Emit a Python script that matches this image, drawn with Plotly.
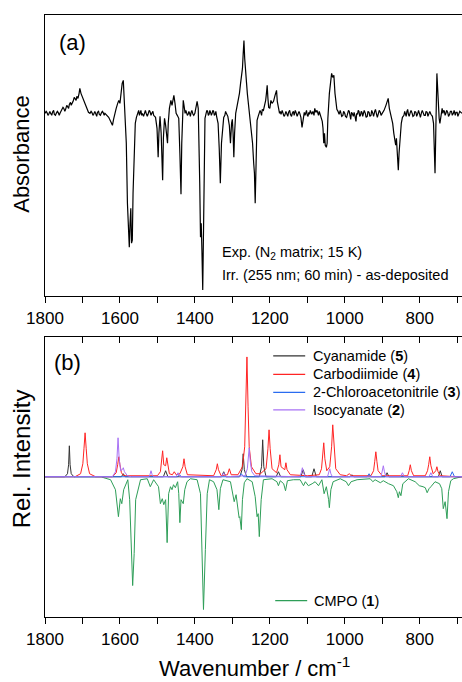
import plotly.graph_objects as go

# ---------------- data ----------------
tick_values = [1800, 1600, 1400, 1200, 1000, 800]
tick_labels = ["1800", "1600", "1400", "1200", "1000", "800"]
minor_tick_values = [1700, 1500, 1300, 1100, 900, 700]

# (a) experimental difference spectrum: (wavenumber, absorbance x 1e-3 a.u.)
exp_points = [
    (1800, 0), (1797, 2), (1795, 1), (1792, -2), (1790, -1), (1787, 2), (1785, 0), (1782, -2),
    (1780, 1), (1777, 3), (1775, -1), (1772, -2), (1770, 0), (1767, 2), (1765, 1), (1762, -2),
    (1760, 0), (1755, 3), (1752, 6), (1750, 5), (1747, 2), (1745, 4), (1742, 8), (1740, 7),
    (1737, 5), (1735, 9), (1732, 11), (1730, 8), (1727, 10), (1725, 12), (1722, 16), (1720, 14),
    (1717, 13), (1715, 17), (1712, 15), (1709, 20), (1707, 25), (1704, 20), (1700, 16),
    (1696, 12), (1692, 8), (1688, 3), (1684, 1), (1680, 0), (1677, 2), (1675, 1), (1672, -2),
    (1670, -1), (1667, 2), (1665, 0), (1662, -3), (1660, 1), (1657, 2), (1655, -1), (1652, -2),
    (1650, 0), (1647, 2), (1645, 1), (1642, -2), (1640, 0), (1635, -2), (1630, -4), (1625, -8),
    (1620, -12), (1617, -6), (1613, 2), (1610, 5), (1606, 10), (1603, 13), (1600, 10),
    (1597, 20), (1594, 30), (1591, 33), (1589, 20), (1586, 0), (1583, -30), (1580, -90),
    (1577, -125), (1575, -134), (1573, -110), (1571, -95), (1569, -130), (1567, -127),
    (1565, -80), (1562, -30), (1559, -10), (1556, -4), (1552, 0), (1550, 3), (1548, -2),
    (1546, 1), (1544, 3), (1542, -2), (1540, 0), (1537, -3), (1535, 1), (1532, 3), (1530, 0),
    (1527, -3), (1525, -1), (1522, 3), (1520, 2), (1517, -2), (1515, 0), (1512, 2),
    (1510, -2), (1505, -4), (1501, -15), (1498, -44), (1496, -20), (1493, -3), (1490, -20),
    (1486, -67), (1484, -25), (1481, -5), (1478, -12), (1475, -25), (1473, -30), (1471, -10),
    (1468, 5), (1464, 13), (1461, 8), (1458, 14), (1456, 18), (1453, 10), (1450, 0),
    (1447, -2), (1443, -5), (1440, -40), (1437, -81), (1435, -30), (1433, 5), (1431, 13),
    (1429, 8), (1426, 0), (1424, 3), (1422, 1), (1420, -2), (1418, -1), (1416, 2), (1414, 0),
    (1412, -3), (1410, 1), (1408, 3), (1405, -1), (1403, -2), (1400, 0), (1397, 5), (1394, 12),
    (1391, 5), (1389, -20), (1387, -70), (1385, -124), (1383, -110), (1381, -140),
    (1379, -177), (1377, -120), (1375, -40), (1373, -5), (1370, 0), (1368, 3), (1366, 2),
    (1364, -2), (1362, -1), (1360, 3), (1358, 1), (1356, -2), (1354, 0), (1352, 3), (1350, 2),
    (1348, -2), (1346, -1), (1344, 2), (1342, -3), (1338, -10), (1335, -35),
    (1332, -70), (1329, -30), (1326, -14), (1323, -4), (1320, -2), (1318, 2), (1316, 0),
    (1314, -2), (1312, -3), (1308, -12), (1305, -30), (1302, -10), (1300, -6), (1298, -20),
    (1296, -44), (1294, -20), (1291, 0), (1288, 6), (1284, 13), (1281, 20), (1278, 30),
    (1276, 36), (1273, 45), (1271, 60), (1269, 73), (1267, 55), (1265, 40), (1262, 30),
    (1260, 20), (1258, 13), (1255, 5), (1252, -5), (1249, -18), (1246, -30), (1243, -50),
    (1241, -60), (1239, -90), (1237, -50), (1234, -7), (1231, -3), (1228, 0), (1226, 3),
    (1224, 1), (1222, -2), (1220, 4), (1217, 3), (1214, 8), (1211, 13), (1209, 20), (1207, 28),
    (1205, 15), (1203, 6), (1200, 5), (1197, 13), (1194, 10), (1190, 12), (1186, 18),
    (1182, 23), (1180, 12), (1177, 3), (1174, 0), (1172, 2), (1170, -1), (1167, 3), (1165, 1),
    (1162, -3), (1160, -2), (1157, 2), (1155, 0), (1152, -3), (1150, 1), (1147, 3), (1145, -1),
    (1142, -3), (1140, 0), (1137, 2), (1135, -2), (1132, 3), (1130, 1), (1127, -3),
    (1125, -1), (1122, 2), (1120, 0), (1117, -4), (1114, -14), (1111, -3), (1108, 1),
    (1106, -2), (1104, 0), (1102, 3), (1100, -2), (1098, -3), (1096, 1), (1094, -1),
    (1092, 3), (1090, 1), (1088, -1), (1085, 2), (1082, -2), (1080, 5), (1077, 1), (1074, 3),
    (1072, -1), (1070, -2), (1068, 2), (1066, 0), (1063, -3), (1060, -8), (1058, -15),
    (1056, -30), (1054, -20), (1052, -32), (1049, -34), (1047, -30), (1045, -5), (1043, 16),
    (1041, 20), (1038, 30), (1035, 40), (1032, 36), (1029, 38), (1026, 20), (1024, 10),
    (1021, 4), (1018, 2), (1015, -1), (1012, 3), (1010, 1), (1008, -3), (1005, -2),
    (1003, 2), (1000, 0), (998, -3), (995, -4), (992, -1), (990, 3), (988, 2), (986, -2),
    (984, -6), (982, 1), (980, 0), (977, -3), (975, 1), (973, -2), (970, -8), (968, 0),
    (966, -1), (964, 3), (962, 2), (960, -3), (958, -2), (956, 2), (954, 1), (952, -3),
    (950, -1), (948, 3), (945, 0), (943, -4), (940, -3), (938, 2), (935, 1), (933, -3),
    (930, -2), (928, 3), (925, 0), (923, -3), (920, 2), (918, 4), (915, -1), (913, -4),
    (910, 0), (908, 3), (905, 1), (903, -2), (900, 0), (897, 2), (895, 3), (890, 8),
    (886, 14), (884, 15), (881, 5), (878, 0), (875, -5), (872, -10), (869, -20), (866, -28),
    (864, -32), (862, -25), (860, -35), (857, -57), (855, -40), (852, -18), (849, -10),
    (846, -4), (842, -2), (840, 2), (838, 0), (836, -3), (834, 2), (832, 4), (830, -1),
    (828, -3), (825, 1), (823, 3), (820, 0), (818, -3), (815, -2), (813, 2), (810, 1),
    (808, -3), (805, 0), (803, 3), (800, -1), (798, -4), (795, 1), (793, 3), (790, 0),
    (788, -2), (785, -2), (783, 2), (780, 1), (778, -3), (775, 0), (773, 2), (770, -1),
    (766, -3), (763, -10), (761, -35), (759, -60), (757, -20), (755, 20), (754, 40),
    (752, 25), (750, 5), (748, -5), (746, -10), (744, -5), (742, 3), (740, 5), (738, 0),
    (736, 3), (734, 2), (732, -2), (730, 0), (728, 3), (725, 1), (723, -3), (720, -1),
    (718, 2), (715, 2), (713, -2), (710, 0), (708, 3), (705, -2), (703, 1), (700, 1),
    (698, -3), (695, 0), (693, 2), (690, 1), (687, 0),
]
exp_wavenumber = [p[0] for p in exp_points]
exp_absorbance = [p[1] for p in exp_points]

# (b) computed spectra (relative intensity, a.u.)
cyanamide_wn = [1800, 1747, 1740, 1737, 1735, 1733, 1730, 1723, 1596, 1591, 1586, 1484, 1478, 1472,
                1329, 1323, 1317, 1280, 1274, 1271, 1268, 1262, 1228, 1222, 1219, 1216, 1210,
                1183, 1177, 1171, 1117, 1111, 1105, 1088, 1082, 1076, 986, 981, 976, 892, 887,
                882, 750, 745, 740, 687]
cyanamide_int = [0, 0, 3, 12, 31, 12, 3, 0, 0, 3, 0, 0, 6, 0,
                 0, 5, 0, 0, 7, 23, 7, 0, 0, 10, 37, 10, 0,
                 0, 5, 0, 0, 7, 0, 0, 8, 0, 0, 2, 0, 0, 4,
                 0, 0, 6, 0, 0]

carbodiimide_wn = [1800, 1720, 1705, 1699, 1696, 1693, 1690, 1687, 1681, 1665, 1620, 1610, 1606,
                   1603, 1600, 1596, 1590, 1500, 1492, 1489, 1486, 1483, 1478, 1475, 1472, 1468,
                   1460, 1455, 1450, 1440, 1432, 1429, 1426, 1420, 1350, 1343, 1340, 1337, 1330,
                   1313, 1308, 1303, 1285, 1273, 1267, 1264, 1261, 1258, 1255, 1249, 1237, 1225,
                   1210, 1205, 1202, 1199, 1194, 1182, 1176, 1173, 1170, 1160, 1157, 1154, 1145,
                   1100, 1068, 1062, 1059, 1056, 1053, 1048, 1040, 1035, 1032, 1029, 1024, 1012,
                   995, 988, 982, 930, 923, 920, 917, 914, 911, 900, 832, 828, 825, 822, 816,
                   785, 779, 776, 773, 770, 764, 757, 754, 751, 745, 700, 687]
carbodiimide_int = [0, 0, 3, 13, 28, 44, 28, 13, 3, 0, 0, 4, 12,
                    20, 12, 4, 1, 1, 5, 14, 26, 12, 11, 19, 10, 3,
                    2, 5, 2, 3, 10, 18, 10, 2, 1, 7, 13, 7, 1,
                    2, 8, 2, 2, 10, 30, 70, 120, 70, 30, 10, 3, 3,
                    8, 28, 47, 28, 8, 4, 12, 22, 10, 7, 14, 7, 2,
                    1, 2, 8, 20, 34, 18, 6, 10, 30, 52, 30, 8, 2,
                    1, 3, 1, 1, 6, 15, 25, 15, 6, 1, 1, 6, 12, 6, 1,
                    1, 6, 12, 20, 11, 3, 6, 10, 5, 1, 0, 0]

chloroacetonitrile_wn = [1800, 1446, 1441, 1436, 1282, 1276, 1270, 940, 935, 930, 719, 713, 707, 687]
chloroacetonitrile_int = [0, 0, 2, 0, 0, 3, 0, 0, 3, 0, 0, 5, 0, 0]

isocyanate_wn = [1800, 1620, 1612, 1608, 1605, 1602, 1598, 1594, 1591, 1588, 1580, 1570, 1523, 1520,
                 1517, 1514, 1510, 1450, 1445, 1440, 1329, 1323, 1317, 1266, 1260, 1257, 1255,
                 1252, 1248, 1240, 1120, 1116, 1113, 1110, 1105, 1046, 1043, 1040, 1037, 1033,
                 903, 900, 897, 894, 890, 851, 846, 841, 775, 770, 765, 687]
isocyanate_int = [0, 0, 5, 18, 39, 18, 6, 7, 9, 5, 1, 0, 0, 2,
                  6, 2, 0, 0, 4, 0, 0, 4, 0, 1, 8, 18, 29,
                  15, 5, 1, 0, 4, 9, 4, 0, 0, 3, 8, 3, 0,
                  0, 5, 11, 5, 0, 0, 4, 0, 0, 4, 0, 0]

cmpo_wn = [1800, 1650, 1643, 1625, 1612, 1604, 1599, 1595, 1590, 1579, 1574, 1569, 1566, 1562,
           1558, 1545, 1527, 1519, 1510, 1497, 1492, 1487, 1483, 1478, 1474, 1470, 1465, 1461,
           1457, 1452, 1446, 1443, 1440, 1437, 1431, 1427, 1421, 1412, 1394, 1385, 1381, 1377,
           1372, 1367, 1361, 1350, 1341, 1336, 1332, 1325, 1305, 1299, 1295, 1290, 1286, 1282,
           1280, 1276, 1273, 1268, 1261, 1247, 1239, 1234, 1231, 1228, 1223, 1217, 1194, 1181,
           1177, 1172, 1163, 1158, 1153, 1137, 1119, 1110, 1105, 1097, 1087, 1079, 1070, 1061,
           1055, 1049, 1043, 1041, 1037, 1031, 1012, 996, 990, 983, 967, 932, 925, 919, 905,
           897, 883, 870, 861, 857, 854, 850, 845, 830, 812, 801, 791, 785, 780, 775, 770, 759,
           747, 741, 737, 732, 727, 723, 717, 710, 687]
cmpo_int = [0, 0, -1, -3, -13, -40, -22, -27, -13, -3, -23, -77, -109, -77,
            -23, -3, -2, -10, -3, -10, -27, -22, -28, -23, -66, -17, -10, -13,
            -8, -11, -5, -17, -46, -23, -27, -13, -5, -2, -3, -17, -73, -133,
            -73, -17, -3, -5, -13, -33, -12, -3, -5, -15, -25, -18, -30, -41,
            -40, -53, -23, -6, -2, -5, -20, -40, -37, -60, -23, -3, -2, -5,
            -9, -4, -7, -14, -4, -3, -3, -9, -5, -9, -7, -5, -9, -3,
            -17, -10, -23, -31, -13, -5, -2, -5, -9, -5, -3, -2, -5, -3, -6,
            -4, -7, -9, -15, -21, -15, -19, -7, -2, -5, -9, -10, -11, -16, -12, -10, -5,
            -7, -12, -32, -25, -42, -15, -4, -2, 0]

# ---------------- figure ----------------
W, H = 462, 682
ML, MR, MT, MB = 44.5, 0, 14.5, 64.5
PW, PH = W - ML - MR, H - MT - MB


def px_x(px):
    return (px - ML) / PW


def px_y(py):
    return 1 - (py - MT) / PH


FONT = "Liberation Sans, Arial, Helvetica, sans-serif"
X_RANGE = [1800, 687]

fig = go.Figure()

fig.add_trace(go.Scatter(x=exp_wavenumber, y=exp_absorbance, mode="lines",
                         line=dict(color="black", width=1.2), showlegend=False,
                         xaxis="x", yaxis="y"))

# name, x, y, colour, legend row (px): line start x, text start x, row centre y
series = [
    ("CMPO (<b>1</b>)", cmpo_wn, cmpo_int, "#2e9e58", (275, 311.5, 601)),
    ("Cyanamide (<b>5</b>)", cyanamide_wn, cyanamide_int, "#333333", (273, 310.5, 356)),
    ("Carbodiimide (<b>4</b>)", carbodiimide_wn, carbodiimide_int, "#ff2424", (273, 310.5, 374.5)),
    ("2-Chloroacetonitrile (<b>3</b>)", chloroacetonitrile_wn, chloroacetonitrile_int,
     "#2a6cf0", (273, 310.5, 392.5)),
    ("Isocyanate (<b>2</b>)", isocyanate_wn, isocyanate_int, "#a872f5", (273, 310.5, 410)),
]
legend_shapes = []
legend_texts = []
for name, xs, ys, color, (lx, tx, ry) in series:
    fig.add_trace(go.Scatter(x=xs, y=ys, mode="lines", name=name, showlegend=False,
                             line=dict(color=color, width=1), xaxis="x2", yaxis="y2"))
    legend_shapes.append(dict(type="line", xref="paper", yref="paper",
                              x0=px_x(lx), x1=px_x(lx + 32), y0=px_y(ry), y1=px_y(ry),
                              line=dict(color=color, width=1.2)))
    legend_texts.append(dict(text=name, x=px_x(tx), y=px_y(ry), xanchor="left",
                             yanchor="middle", size=14.5))

# empty trace so the inward-ticked top frame of panel (b) is drawn
fig.add_trace(go.Scatter(x=[], y=[], mode="lines", showlegend=False, xaxis="x3", yaxis="y2"))

axis_common = dict(range=X_RANGE, tickmode="array", tickvals=tick_values, ticktext=tick_labels,
                   showgrid=False, zeroline=False, showline=True, linecolor="black",
                   linewidth=1.3, tickcolor="black", tickwidth=1.2, ticklen=6,
                   tickfont=dict(family=FONT, size=17, color="black"))

top_dom = [px_y(296), 1]
bot_dom = [0, px_y(337)]

fig.update_layout(
    width=W, height=H,
    margin=dict(l=ML, r=MR, t=MT, b=MB, pad=0),
    paper_bgcolor="white", plot_bgcolor="white",
    font=dict(family=FONT, color="black"),
    showlegend=False,
    xaxis=dict(**axis_common, domain=[0, 1], anchor="y", ticks="outside", mirror=True,
               ticklabelstandoff=0,
               minor=dict(tickmode="array", tickvals=minor_tick_values, ticks="outside",
                          ticklen=6, tickwidth=1.2, tickcolor="black", showgrid=False)),
    yaxis=dict(domain=top_dom, range=[-183, 98.5], showline=True, linecolor="black",
               linewidth=1.3, showticklabels=False, ticks="", showgrid=False, zeroline=False),
    xaxis2=dict(**axis_common, domain=[0, 1], anchor="y2", ticks="outside",
                ticklabelstandoff=0,
                minor=dict(tickmode="array", tickvals=minor_tick_values, ticks="outside",
                           ticklen=6, tickwidth=1.2, tickcolor="black", showgrid=False)),
    xaxis3=dict(**axis_common, domain=[0, 1], anchor="y2", overlaying="x2", side="top",
                ticks="inside", showticklabels=False,
                minor=dict(tickmode="array", tickvals=minor_tick_values, ticks="inside",
                           ticklen=6, tickwidth=1.2, tickcolor="black", showgrid=False)),
    yaxis2=dict(domain=bot_dom, range=[-140.5, 140], showline=True, linecolor="black",
                linewidth=1.3, showticklabels=False, ticks="", showgrid=False, zeroline=False),
    shapes=legend_shapes,
)

ann = [
    dict(text="(a)", x=px_x(57), y=px_y(42), xanchor="left", yanchor="middle", size=22),
    dict(text="(b)", x=px_x(52), y=px_y(363), xanchor="left", yanchor="middle", size=22),
    dict(text="Exp. (N<sub>2</sub> matrix; 15 K)", x=px_x(220), y=px_y(253),
         xanchor="left", yanchor="middle", size=14.5),
    dict(text="Irr. (255 nm; 60 min) - as-deposited", x=px_x(220), y=px_y(275),
         xanchor="left", yanchor="middle", size=14.5),
    dict(text="Absorbance", x=px_x(21), y=px_y(154), textangle=-90,
         xanchor="center", yanchor="middle", size=22),
    dict(text="Rel. Intensity", x=px_x(21), y=px_y(459), textangle=-90,
         xanchor="center", yanchor="middle", size=24),
    dict(text="Wavenumber / cm<sup>-1</sup>", x=px_x(254), y=px_y(668),
         xanchor="center", yanchor="middle", size=22),
] + legend_texts
annotations = []
for a in ann:
    size = a.pop("size")
    a.update(xref="paper", yref="paper", showarrow=False,
             font=dict(family=FONT, color="black", size=size))
    annotations.append(a)
fig.update_layout(annotations=annotations)

fig.write_html("out.html", config={"displayModeBar": False},
               post_script="document.body.style.margin='0';document.body.style.padding='0';")
